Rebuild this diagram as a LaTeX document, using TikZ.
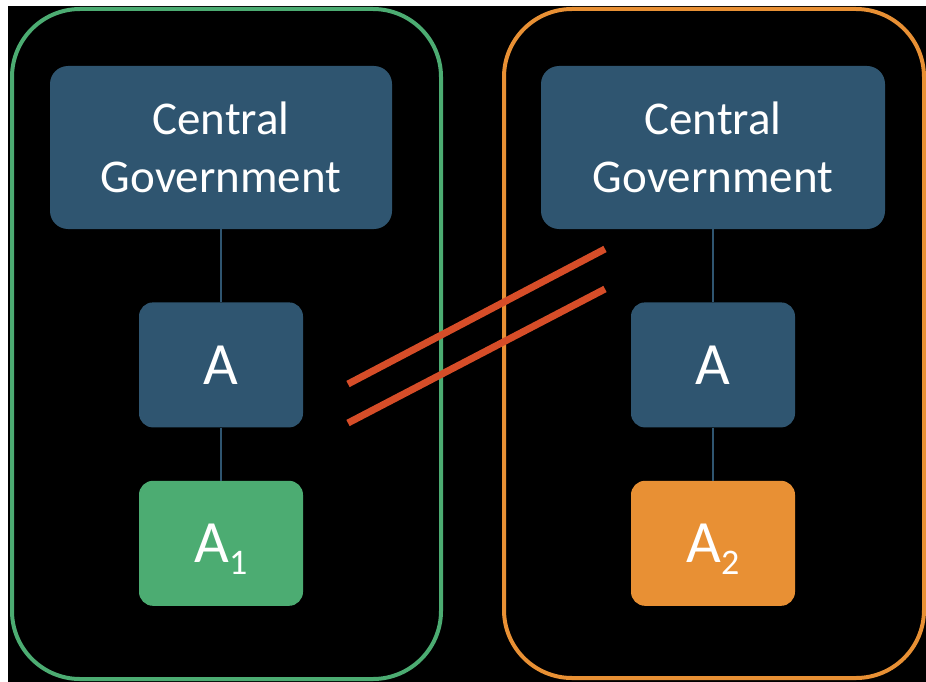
\documentclass[tikz,border=0pt]{standalone}
\usepackage{fontspec}
\setmainfont{Carlito}
\usepackage{xcolor}
\usepackage{tikz}
\usetikzlibrary{positioning}
\definecolor{govblue}{RGB}{47,85,112}
\definecolor{grpgreen}{RGB}{76,172,114}
\definecolor{grporange}{RGB}{232,144,52}
\definecolor{cutred}{RGB}{214,77,40}

\begin{document}
\begin{tikzpicture}[x=1pt,y=-1pt,
   groupbox/.style={draw=#1, line width=4pt, rounded corners=68pt, inner sep=0pt},
   govbox/.style={fill=govblue, text=white, rounded corners=18pt, inner sep=0pt,
      minimum width=342pt, minimum height=163pt, align=center,
      font=\fontsize{47}{58}\selectfont},
   leafbox/.style={fill=#1, text=white, rounded corners=14pt, inner sep=0pt,
      minimum width=164pt, minimum height=125pt, text depth=0pt,
      font=\fontsize{60}{60}\selectfont},
   link/.style={draw=govblue, line width=2pt},
   cut/.style={draw=cutred, line width=7pt}]
   \useasboundingbox (0,0) rectangle (926,682);
   \fill[black] (8,6) rectangle (926,682);

   \node[groupbox=grpgreen, minimum width=429pt, minimum height=670pt] (grpL) at (226.5,344) {};
   \node[groupbox=grporange, minimum width=420pt, minimum height=669pt] (grpR) at (714,343.5) {};

   \node[govbox] (govL) at (221,147.5) {Central\\Government};
   \node[leafbox=govblue, below=73pt of govL] (aL) {A};
   \node[leafbox=grpgreen, below=53pt of aL] (aL1) {A\raisebox{-12pt}{\fontsize{36}{36}\selectfont 1}};

   \node[govbox, minimum width=344pt] (govR) at (713,147.5) {Central\\Government};
   \node[leafbox=govblue, below=73pt of govR] (aR) {A};
   \node[leafbox=grporange, below=53pt of aR] (aR2) {A\raisebox{-12pt}{\fontsize{36}{36}\selectfont 2}};

   \draw[link] (govL) -- (aL) -- (aL1);
   \draw[link] (govR) -- (aR) -- (aR2);

   \coordinate (cutA1) at (348,384);
   \coordinate (cutA2) at (605,249);
   \coordinate (cutB1) at (348,423);
   \coordinate (cutB2) at (605,289);
   \draw[cut] (cutA1) -- (cutA2);
   \draw[cut] (cutB1) -- (cutB2);
\end{tikzpicture}
\end{document}
